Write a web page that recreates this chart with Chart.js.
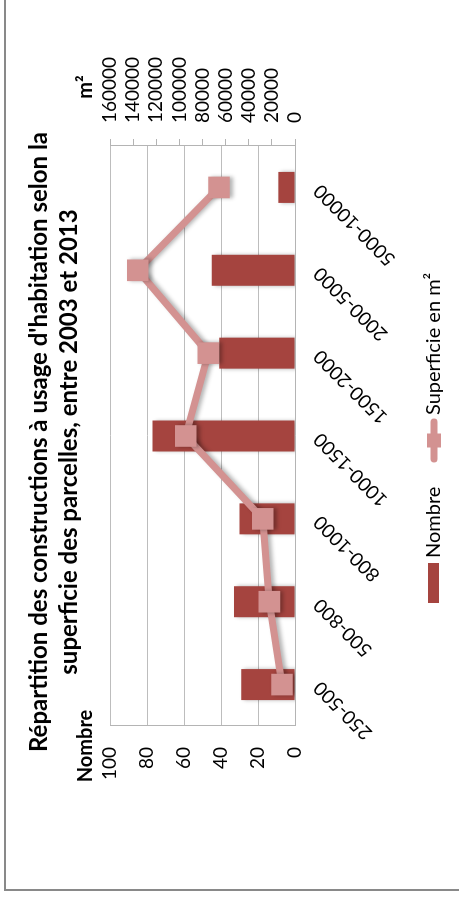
<!DOCTYPE html>
<html><head><meta charset="utf-8">
<script src="https://cdn.jsdelivr.net/npm/chart.js@4.4.1/dist/chart.umd.min.js"></script>
<style>
html,body{margin:0;padding:0;background:#fff;overflow:hidden;width:459px;height:899px;}
#rot{position:absolute;left:0;top:0;width:899px;height:459px;transform-origin:0 0;transform:translate(0,899px) rotate(-90deg);}
#frame{position:absolute;left:8px;top:4px;width:1000px;height:600px;border-left:2px solid #898989;border-top:2px solid #898989;box-sizing:border-box;}
canvas{position:absolute;left:0;top:0;}
</style></head><body>
<div id="rot"><div id="frame"></div><canvas id="c" width="899" height="459"></canvas></div>
<script>
// ---- data ----
const categories = ['250-500','500-800','800-1000','1000-1500','1500-2000','2000-5000','5000-10000'];
const nombre = [29, 33, 30, 77, 41, 45, 9];
const superficie = [11200, 22200, 27900, 94500, 75000, 136000, 65700];
const nombreTicks = [0, 20, 40, 60, 80, 100];
const surfaceTicks = [0, 20000, 40000, 60000, 80000, 100000, 120000, 140000, 160000];
const titleLines = ["Répartition des constructions à usage d'habitation selon la", "superficie des parcelles, entre 2003 et 2013"];
const seriesNames = ['Nombre', 'Superficie en m²'];
const axisTitles = ['Nombre', 'm²'];

const BAR = '#A5443F';
const LINE = '#D39291';
const FONT = 'Lato';

const deco = {
  id: 'deco',
  beforeDatasetsDraw(chart) {
    const ctx = chart.ctx;
    ctx.save();
    ctx.shadowColor = 'rgba(0,0,0,0.3)';
    ctx.shadowBlur = 4;
    ctx.shadowOffsetX = 0;
    ctx.shadowOffsetY = 3;
  },
  afterDatasetsDraw(chart) { chart.ctx.restore(); },
  afterDraw(chart) {
    const ctx = chart.ctx;
    ctx.save();
    ctx.fillStyle = '#000';
    ctx.textAlign = 'center';
    ctx.textBaseline = 'alphabetic';
    ctx.font = 'bold 24px ' + FONT;
    ctx.fillText(titleLines[0], 457, 47);
    ctx.fillText(titleLines[1], 457, 77);
    ctx.font = 'bold 20px ' + FONT;
    ctx.textBaseline = 'middle';
    ctx.fillText(axisTitles[0], 153, 86);
    ctx.fillText(axisTitles[1], 812, 86);
    // legend
    ctx.fillStyle = BAR;
    ctx.fillRect(296, 428, 40, 11);
    ctx.fillStyle = '#000';
    ctx.textAlign = 'left';
    ctx.font = '20px ' + FONT;
    ctx.fillText(seriesNames[0], 341, 434);
    ctx.strokeStyle = LINE;
    ctx.lineWidth = 7;
    ctx.lineCap = 'round';
    ctx.beginPath(); ctx.moveTo(440, 434); ctx.lineTo(477, 434); ctx.stroke();
    ctx.fillStyle = LINE;
    ctx.fillRect(451.5, 427, 14, 14);
    ctx.fillStyle = '#000';
    ctx.fillText(seriesNames[1], 484, 434);
    ctx.restore();
  }
};

const plain = v => String(v);

new Chart(document.getElementById('c'), {
  data: {
    labels: categories,
    datasets: [
      { type: 'line', label: seriesNames[1], data: superficie, yAxisID: 'y1', order: 0,
        borderColor: LINE, backgroundColor: LINE, borderWidth: 7, pointStyle: 'rect',
        pointRadius: 15.3, pointBorderWidth: 0, pointBackgroundColor: LINE, tension: 0 },
      { type: 'bar', label: seriesNames[0], data: nombre, yAxisID: 'y', order: 1,
        backgroundColor: BAR, categoryPercentage: 1, barPercentage: 0.374 }
    ]
  },
  options: {
    responsive: false, animation: false, devicePixelRatio: 1,
    layout: { padding: { top: 110, left: 0, right: 0, bottom: 0 } },
    plugins: { legend: { display: false }, title: { display: false }, tooltip: { enabled: false } },
    scales: {
      x: {
        grid: { display: false, drawTicks: false },
        border: { display: true, color: '#b4b4b4' },
        ticks: { minRotation: 45, maxRotation: 45, padding: 14, color: '#000', font: { family: FONT, size: 19 } },
        afterFit(s) { s.height = 164; }
      },
      y: {
        position: 'left', min: 0, max: 100,
        afterBuildTicks(s) { s.ticks = nombreTicks.map(v => ({ value: v })); },
        grid: { color: '#bdbdbd', drawTicks: false },
        border: { display: true, color: '#b4b4b4' },
        ticks: { padding: 21, color: '#000', autoSkip: false, callback: plain, font: { family: FONT, size: 19 } },
        afterFit(s) { s.width = 173; }
      },
      y1: {
        position: 'right', min: 0, max: 160000,
        afterBuildTicks(s) { s.ticks = surfaceTicks.map(v => ({ value: v })); },
        grid: { drawOnChartArea: false, drawTicks: true, tickLength: 7, color: '#b4b4b4' },
        border: { display: true, color: '#b4b4b4' },
        ticks: { padding: 16, color: '#000', autoSkip: false, callback: plain, font: { family: FONT, size: 19 } },
        afterFit(s) { s.width = 146; }
      }
    }
  },
  plugins: [deco]
});
</script>
</body></html>
